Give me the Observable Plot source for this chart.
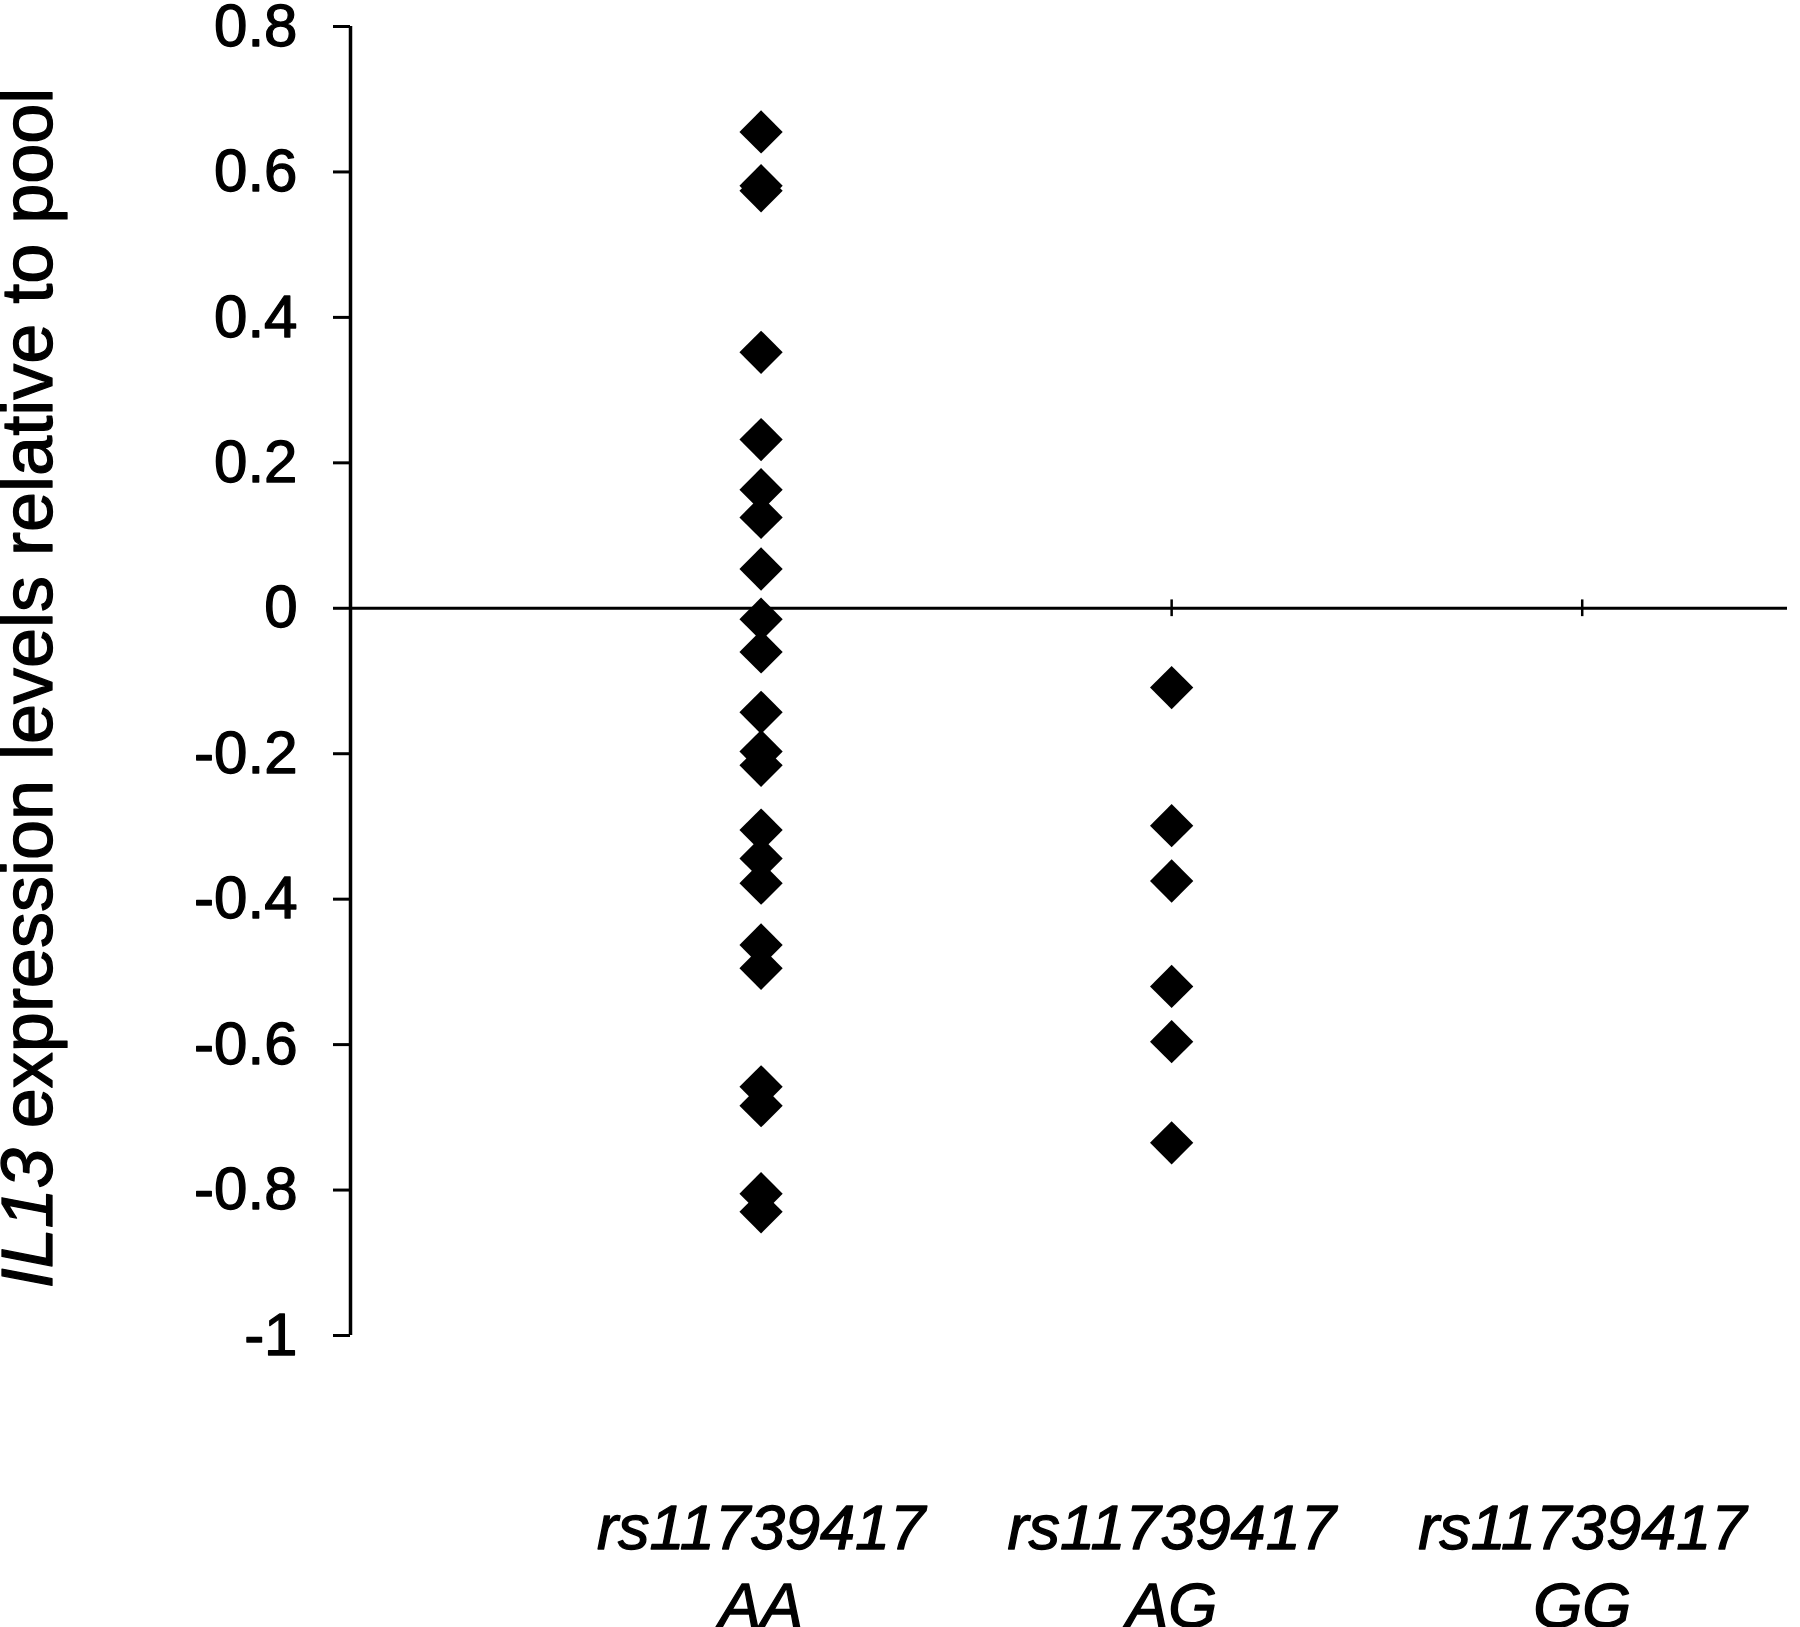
<!DOCTYPE html>
<html>
<head>
<meta charset="utf-8">
<script src="https://cdn.jsdelivr.net/npm/d3@7"></script>
<script src="https://cdn.jsdelivr.net/npm/@observablehq/plot@0.6"></script>
<style>
html, body { margin: 0; padding: 0; background: #fff; overflow: hidden; }
#chart svg text { stroke: #000; stroke-width: 1.3px; stroke-linejoin: round; }
</style>
</head>
<body>
<div id="chart"></div>
<script>
// ---- data ----
const snpName = "rs11739417";
const categories = ["AA", "AG", "GG"];
const categoryPos = [1, 2, 3];
const aaValues = [0.655, 0.581, 0.574, 0.352, 0.232, 0.163, 0.125, 0.054, -0.015, -0.060,
                  -0.143, -0.197, -0.216, -0.305, -0.344, -0.378, -0.463, -0.495,
                  -0.658, -0.684, -0.805, -0.830];
const agValues = [-0.109, -0.299, -0.375, -0.520, -0.596, -0.735];
const ggValues = [];
const yTicks = [-1, -0.8, -0.6, -0.4, -0.2, 0, 0.2, 0.4, 0.6, 0.8];
const yTickLabels = ["-1", "-0.8", "-0.6", "-0.4", "-0.2", "0", "0.2", "0.4", "0.6", "0.8"];
const yTitleGene = "IL13";
const yTitleRest = " expression levels relative to pool";

// ---- build table ----
const groups = [aaValues, agValues, ggValues];
const points = [];
groups.forEach((vals, i) => vals.forEach(v => points.push({genotype: categories[i], pos: categoryPos[i], value: v})));
const yLabelMap = new Map(yTicks.map((t, i) => [t, yTickLabels[i]]));

const FONT = "'Liberation Sans', Arial, Helvetica, sans-serif";

const svg = Plot.plot({
  width: 1800,
  height: 1627,
  marginLeft: 350,
  marginRight: 13,
  marginTop: 26,
  marginBottom: 292,
  x: {domain: [0, 3.5], label: null},
  y: {domain: [-1, 0.8], label: null},
  style: {fontFamily: FONT, background: "white", color: "black"},
  marks: [
    Plot.ruleY([0], {stroke: "black", strokeWidth: 3}),
    Plot.ruleX([0], {stroke: "black", strokeWidth: 3.5}),
    Plot.ruleX(categoryPos, {y1: -0.0115, y2: 0.0115, stroke: "black", strokeWidth: 2.5}),
    Plot.axisY({
      ticks: yTicks,
      tickFormat: d => yLabelMap.get(d),
      tickSize: 17,
      tickPadding: 36,
      fontSize: 60,
      strokeWidth: 3,
      label: null
    }),
    Plot.axisX({
      ticks: categoryPos,
      tickFormat: d => snpName + "\n" + categories[d - 1],
      tickSize: 0,
      tickPadding: 158,
      fontSize: 63,
      fontStyle: "italic",
      lineHeight: 1.24,
      label: null
    }),
    Plot.dot(points, {x: "pos", y: "value", symbol: "diamond2", r: 19.5, fill: "black", stroke: "none"})
  ]
});

document.getElementById("chart").appendChild(svg);

// y-axis title with italic gene name
const title = d3.select(svg).append("text")
  .attr("transform", "translate(52,688) rotate(-90)")
  .attr("text-anchor", "middle")
  .attr("fill", "black")
  .style("font-family", FONT)
  .style("font-size", "72px")
  .style("white-space", "pre");
title.append("tspan").style("font-style", "italic").text(yTitleGene);
title.append("tspan").text(yTitleRest);
</script>
</body>
</html>
